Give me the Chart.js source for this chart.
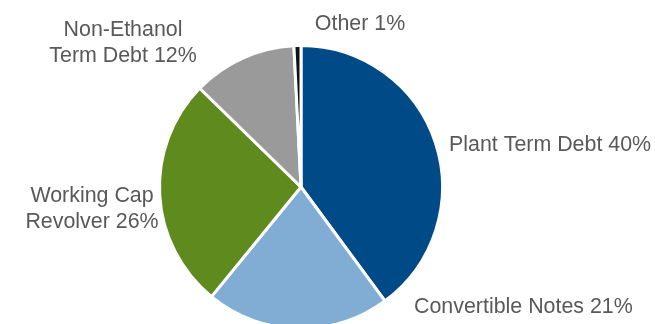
<!DOCTYPE html>
<html lang="en">
<head>
  <meta charset="UTF-8" />
  <title>Debt mix</title>
  <script src="https://cdn.jsdelivr.net/npm/chart.js"></script>
  <style>
    html, body {
      margin: 0;
      padding: 0;
      background: #fff;
      overflow: hidden;
    }
    #wrap {
      width: 655px;
      height: 340px;
    }
  </style>
</head>
<body>
  <div id="wrap"><canvas id="grafico"></canvas></div>

  <script>
    // data (percent of total)
    const categorias = [
      ["Plant Term Debt"],
      ["Convertible Notes"],
      ["Working Cap", "Revolver"],
      ["Non-Ethanol", "Term Debt"],
      ["Other"]
    ];
    const valores = [39.9, 21.0, 26.4, 11.9, 0.8];
    const colores = ["#004a87", "#81acd3", "#5f8a1e", "#9a9a9a", "#111111"];

    // where each label sits (baseline of first line)
    const posEtiquetas = [
      { x: 449, y: 151, align: "left" },
      { x: 414, y: 313, align: "left" },
      { x: 92, y: 202, align: "center" },
      { x: 123, y: 36, align: "center" },
      { x: 360, y: 30, align: "center" }
    ];

    const total = valores.reduce((a, b) => a + b, 0);

    const etiquetas = {
      id: "etiquetas",
      afterDraw(chart) {
        const ctx = chart.ctx;
        ctx.save();
        ctx.font = "21.4px 'Liberation Sans', Arial, sans-serif";
        ctx.fillStyle = "#595959";
        ctx.textBaseline = "alphabetic";
        categorias.forEach((lineas, i) => {
          const p = posEtiquetas[i];
          const pct = Math.round(valores[i] / total * 100) + "%";
          ctx.textAlign = p.align;
          lineas.forEach((t, j) => {
            const txt = j === lineas.length - 1 ? t + " " + pct : t;
            ctx.fillText(txt, p.x, p.y + j * 25.5);
          });
        });
        ctx.restore();
      }
    };

    new Chart(document.getElementById("grafico"), {
      type: "pie",
      data: {
        labels: categorias.map(c => c.join(" ")),
        datasets: [{
          data: valores,
          backgroundColor: colores,
          borderColor: "#ffffff",
          borderWidth: 3
        }]
      },
      options: {
        responsive: true,
        maintainAspectRatio: false,
        animation: false,
        layout: { padding: { top: 44, bottom: 10, left: 158, right: 211 } },
        plugins: {
          legend: { display: false },
          tooltip: { enabled: false }
        }
      },
      plugins: [etiquetas]
    });
  </script>
</body>
</html>
